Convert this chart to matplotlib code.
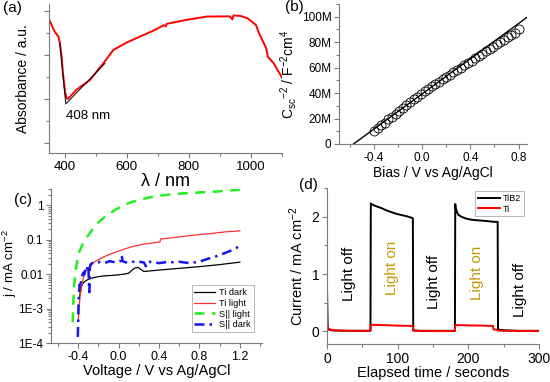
import matplotlib
matplotlib.use("Agg")
import matplotlib.pyplot as plt
from matplotlib.ticker import MultipleLocator, FuncFormatter, LogLocator, NullFormatter

plt.rcParams['font.family'] = ['Liberation Sans', 'DejaVu Sans']
plt.rcParams['mathtext.fontset'] = 'custom'
plt.rcParams['mathtext.rm'] = 'Liberation Sans'
plt.rcParams['mathtext.it'] = 'Liberation Sans:italic'
plt.rcParams['axes.edgecolor'] = '#7a7a7a'
plt.rcParams['xtick.color'] = '#7a7a7a'
plt.rcParams['ytick.color'] = '#7a7a7a'
plt.rcParams['xtick.labelcolor'] = 'black'
plt.rcParams['ytick.labelcolor'] = 'black'

# (a) absorbance spectrum
wavelength = [351, 368, 380, 385, 390, 395, 401, 406, 411, 438, 482, 525, 557, 600,
              643, 686, 720, 726, 729, 793, 858, 930, 938, 940, 944, 966, 989, 1016,
              1026, 1047, 1052, 1054, 1073, 1095, 1104]
absorbance = [5.58, 5.05, 4.82, 4.52, 3.99, 3.15, 2.40, 2.02, 1.99, 2.40, 2.85, 3.61, 4.21, 4.55,
              4.82, 5.09, 5.34, 5.28, 5.40, 5.58, 5.73, 5.74, 5.66, 5.60, 5.78, 5.76, 5.65, 5.35,
              4.97, 4.36, 4.10, 3.91, 3.61, 3.08, 2.85]
tangent_x = [385, 404, 530]
tangent_y = [4.50, 1.76, 3.60]

# (b) Mott-Schottky
bias = [-0.40, -0.37, -0.34, -0.31, -0.28, -0.25, -0.22, -0.19, -0.16, -0.13, -0.10,
        -0.07, -0.04, -0.01, 0.02, 0.05, 0.08, 0.11, 0.14, 0.17, 0.20, 0.23, 0.26,
        0.29, 0.32, 0.35, 0.38, 0.41, 0.44, 0.47, 0.50, 0.53, 0.56, 0.59, 0.62, 0.65,
        0.68, 0.71, 0.74, 0.77, 0.80]
csc = [10.0, 12.5, 14.6, 16.8, 19.3, 21.5, 23.8, 26.1, 28.3, 30.6, 32.8,
       35.0, 37.3, 39.5, 41.6, 43.5, 45.4, 47.3, 49.1, 51.0, 52.8, 54.6, 56.4,
       58.3, 60.1, 62.0, 63.8, 65.6, 67.4, 69.2, 71.0, 72.8, 74.6, 76.4, 78.2, 80.0,
       81.8, 83.7, 85.6, 87.6, 90.5]
fit_bias = [-0.57, 0.87]
fit_csc = [0.0, 99.5]

# (c) j-V curves
ti_dark_v = [-0.39, -0.385, -0.375, -0.366, -0.35, -0.33, -0.30, -0.25, -0.20, -0.15, -0.05,
             0.05, 0.10, 0.13, 0.16, 0.19, 0.22, 0.25, 0.40, 0.60, 0.80, 1.00, 1.20]
ti_dark_j = [2.0e-3, 2.5e-3, 3.5e-3, 4.7e-3, 5.6e-3, 6.3e-3, 7.1e-3, 7.9e-3, 8.5e-3, 8.9e-3, 9.3e-3,
             0.0100, 0.0107, 0.0129, 0.0151, 0.0158, 0.0138, 0.0120, 0.0132, 0.0148, 0.0166, 0.0190, 0.0224]
ti_light_v = [-0.40, -0.395, -0.39, -0.38, -0.366, -0.35, -0.317, -0.25, -0.15, -0.088, 0.0,
              0.075, 0.15, 0.24, 0.34, 0.41, 0.415, 0.50, 0.73, 0.90, 1.056, 1.20]
ti_light_j = [4.4e-4, 8e-4, 1.26e-3, 2.5e-3, 4.6e-3, 7.6e-3, 0.0138, 0.0219, 0.0316, 0.038, 0.047,
              0.056, 0.065, 0.074, 0.081, 0.087, 0.105, 0.112, 0.135, 0.151, 0.17, 0.182]
si_light_v = [-0.455, -0.45, -0.445, -0.44, -0.43, -0.415, -0.40, -0.36, -0.317, -0.25, -0.186,
              -0.10, -0.023, 0.05, 0.14, 0.30, 0.47, 0.60, 0.79, 1.0, 1.20]
si_light_j = [4e-4, 1.26e-3, 2.5e-3, 4.5e-3, 0.01, 0.02, 0.038, 0.071, 0.117, 0.219, 0.355,
              0.562, 0.776, 1.02, 1.29, 1.70, 2.02, 2.19, 2.37, 2.57, 2.85]
si_dark_v = [-0.405, -0.40, -0.398, -0.395, -0.39, -0.385, -0.38, -0.37, -0.36, -0.35, -0.34,
             -0.33, -0.32, -0.31, -0.30, -0.295, -0.29, -0.285, -0.28, -0.27, -0.26, -0.24,
             -0.22, -0.20, -0.18, -0.15, -0.12, -0.09, -0.06, -0.03, 0.0, 0.02, 0.03, 0.04,
             0.07, 0.10, 0.13, 0.16, 0.20, 0.25, 0.27, 0.28, 0.30, 0.35, 0.40, 0.45, 0.50,
             0.55, 0.60, 0.65, 0.70, 0.75, 0.80, 0.85, 0.90, 0.95, 1.00, 1.05, 1.10, 1.15, 1.20]
si_dark_j = [1.5e-4, 4e-4, 1.2e-3, 2.2e-3, 3.5e-3, 5e-3, 4e-3, 7e-3, 9e-3, 0.011, 0.010,
             0.014, 0.012, 0.016, 0.018, 0.006, 0.003, 0.015, 0.019, 0.020, 0.021, 0.022,
             0.023, 0.022, 0.024, 0.023, 0.022, 0.024, 0.023, 0.022, 0.023, 0.024, 0.035, 0.024,
             0.022, 0.023, 0.024, 0.022, 0.023, 0.022, 0.017, 0.022, 0.023, 0.022, 0.021, 0.022, 0.023,
             0.022, 0.023, 0.022, 0.021, 0.022, 0.023, 0.026, 0.029, 0.032, 0.036, 0.041, 0.047, 0.055, 0.066]

# (d) chopped light transients
tib2_t = [0, 0, 1, 3, 6, 10, 30, 61.5, 62, 63, 66, 70, 77, 84, 91, 98, 105, 112, 120, 121.5,
          122, 130, 150, 170, 181, 181.5, 182, 184, 186, 190, 196, 203, 210, 220, 229, 236,
          241.5, 242, 250, 270, 300]
tib2_i = [0.0, 0.76, 0.06, 0.03, 0.02, 0.015, 0.01, 0.01, 2.23, 2.22, 2.20, 2.18, 2.15, 2.11,
          2.08, 2.05, 2.03, 2.01, 1.98, 1.97, 0.02, 0.01, 0.01, 0.01, 0.01, 2.22, 2.15, 2.08,
          2.03, 2.00, 1.97, 1.95, 1.94, 1.93, 1.92, 1.91, 1.91, 0.03, 0.02, 0.01, 0.01]
ti_t = [0, 0.5, 2, 5, 10, 30, 61.5, 62, 80, 100, 121.5, 122, 150, 181, 181.5, 200, 220, 235,
        235.5, 240, 242, 250, 300]
ti_i = [0.19, 0.10, 0.05, 0.03, 0.02, 0.01, 0.01, 0.115, 0.11, 0.10, 0.095, 0.01, 0.005,
        0.005, 0.11, 0.105, 0.10, 0.095, 0.035, 0.03, 0.015, 0.01, 0.005]
label_t = [31, 92, 151, 212, 273]
label_i = [1.0, 1.1, 0.87, 1.02, 0.73]
label_text = ['Light off', 'Light on', 'Light off', 'Light on', 'Light off']
label_col = ['black', '#c49a00', 'black', '#c49a00', 'black']

W, H = 550, 382
fig = plt.figure(figsize=(5.5, 3.82), dpi=100)


def px_axes(left, top, right, bottom):
    return fig.add_axes([left / W, 1 - bottom / H, (right - left) / W, (bottom - top) / H])


def clean(ax):
    ax.spines['top'].set_visible(False)
    ax.spines['right'].set_visible(False)
    ax.tick_params(direction='out', length=3.5, width=0.8, pad=2)
    ax.tick_params(which='minor', direction='out', length=2, width=0.8)


# panel (a)
ax1 = px_axes(49, 4, 282, 153)
clean(ax1)
ax1.plot(wavelength, absorbance, color='red', lw=1.4)
ax1.plot(tangent_x, tangent_y, color='black', lw=0.7)
ax1.set_xlim(350, 1100)
ax1.set_ylim(-0.47, 6.3)
ax1.xaxis.set_major_locator(MultipleLocator(200))
ax1.xaxis.set_minor_locator(MultipleLocator(100))
ax1.yaxis.set_major_locator(MultipleLocator(2))
ax1.yaxis.set_minor_locator(MultipleLocator(1))
ax1.set_yticklabels([])
ax1.tick_params(labelsize=9.5)
ax1.set_xlabel('λ / nm', fontsize=13, labelpad=0)
ax1.set_ylabel('Absorbance / a.u.', fontsize=10, labelpad=8)
ax1.text(404, 1.2, '408 nm', fontsize=9.5, ha='left', va='center')
fig.text(12 / W, 1 - 8 / H, '(a)', fontsize=11, ha='center', va='center')

# panel (b)
ax2 = px_axes(339, 4, 527, 144)
clean(ax2)
ax2.plot(fit_bias, [v * 1e6 for v in fit_csc], color='black', lw=1)
ax2.plot(bias, [v * 1e6 for v in csc], 'o', ms=6.5, mfc='none', mec='black', mew=0.6)
ax2.set_xlim(-0.69, 0.87)
ax2.set_ylim(0, 110e6)
ax2.xaxis.set_major_locator(MultipleLocator(0.4))
ax2.xaxis.set_minor_locator(MultipleLocator(0.2))
ax2.yaxis.set_major_locator(MultipleLocator(20e6))
ax2.yaxis.set_minor_locator(MultipleLocator(10e6))
ax2.yaxis.set_major_formatter(FuncFormatter(lambda v, p: '0' if v == 0 else '%dM' % round(v / 1e6)))
ax2.xaxis.set_major_formatter(FuncFormatter(lambda v, p: '%.1f' % v))
ax2.tick_params(labelsize=8.5)
ax2.set_xlabel('Bias / V vs Ag/AgCl', fontsize=10, labelpad=2)
ax2.set_ylabel(r'C$_{\rm sc}$$^{-2}$ / F$^{-2}$cm$^{4}$', fontsize=10, labelpad=2)
fig.text(294 / W, 1 - 7 / H, '(b)', fontsize=11, ha='center', va='center')

# panel (c)
ax3 = px_axes(51, 189, 262, 343)
clean(ax3)
ax3.set_yscale('log')
ax3.plot(ti_dark_v, ti_dark_j, color='black', lw=0.9, label='Ti dark')
ax3.plot(ti_light_v, ti_light_j, color='#ff3030', lw=0.9, label='Ti light')
ax3.plot(si_light_v, si_light_j, color='#22ee22', lw=1.8, ls=(0, (4, 3)), label='S|| light')
ax3.plot(si_dark_v, si_dark_j, color='#1515ee', lw=1.8, ls=(0, (4, 2, 1, 2)), label='S|| dark')
ax3.set_xlim(-0.67, 1.42)
ax3.set_ylim(1e-4, 3.0)
ax3.xaxis.set_major_locator(MultipleLocator(0.4))
ax3.xaxis.set_minor_locator(MultipleLocator(0.2))
ax3.xaxis.set_major_formatter(FuncFormatter(lambda v, p: '%.1f' % v))
ax3.yaxis.set_major_locator(LogLocator(base=10, numticks=10))
ax3.yaxis.set_minor_locator(LogLocator(base=10, subs=range(2, 10), numticks=20))
ax3.yaxis.set_minor_formatter(NullFormatter())
ylab = {1e-4: '1E-4', 1e-3: '1E-3', 1e-2: '0.01', 1e-1: '0.1', 1.0: '1'}
ax3.yaxis.set_major_formatter(FuncFormatter(lambda v, p: ylab.get(float('%.0e' % v), '')))
ax3.tick_params(axis='y', labelsize=8.5)
ax3.tick_params(axis='x', labelsize=9)
ax3.set_xlabel('Voltage / V vs Ag/AgCl', fontsize=10.5, labelpad=1)
ax3.set_ylabel(r'j / mA cm$^{-2}$', fontsize=9.5)
ax3.yaxis.set_label_coords(-0.153, 0.52)
leg3 = ax3.legend(loc='lower right', bbox_to_anchor=(0.96, 0.07), fontsize=6.6, frameon=True,
                  fancybox=False, edgecolor='#999999', handlelength=2.2, borderpad=0.3,
                  labelspacing=0.2, handletextpad=0.5, borderaxespad=0)
leg3.get_frame().set_linewidth(0.6)
fig.text(23 / W, 1 - 200 / H, '(c)', fontsize=11, ha='center', va='center')

# panel (d)
ax4 = px_axes(327, 188, 539, 344)
clean(ax4)
ax4.plot(tib2_t, tib2_i, color='black', lw=1.4, label='TiB2')
ax4.plot(ti_t, ti_i, color='red', lw=1.4, label='Ti')
ax4.set_xlim(0, 300)
ax4.set_ylim(-0.22, 2.5)
ax4.xaxis.set_major_locator(MultipleLocator(100))
ax4.xaxis.set_minor_locator(MultipleLocator(50))
ax4.yaxis.set_major_locator(MultipleLocator(1))
ax4.yaxis.set_minor_locator(MultipleLocator(0.5))
ax4.tick_params(labelsize=10)
ax4.set_xlabel('Elapsed time / seconds', fontsize=10.5, labelpad=0)
ax4.set_ylabel(r'Current / mA cm$^{-2}$', fontsize=10.5, labelpad=4)
for t, i, s, c in zip(label_t, label_i, label_text, label_col):
    ax4.text(t, i, s, rotation=90, ha='center', va='center', fontsize=11, color=c)
leg4 = ax4.legend(loc='upper right', bbox_to_anchor=(0.93, 0.98), fontsize=6.5, frameon=True,
                  fancybox=False, edgecolor='#999999', handlelength=2.4, borderpad=0.3,
                  labelspacing=0.2, handletextpad=0.4, borderaxespad=0)
leg4.get_frame().set_linewidth(0.6)
fig.text(308 / W, 1 - 185 / H, '(d)', fontsize=11, ha='center', va='center')

fig.savefig('out.png', dpi=100)
